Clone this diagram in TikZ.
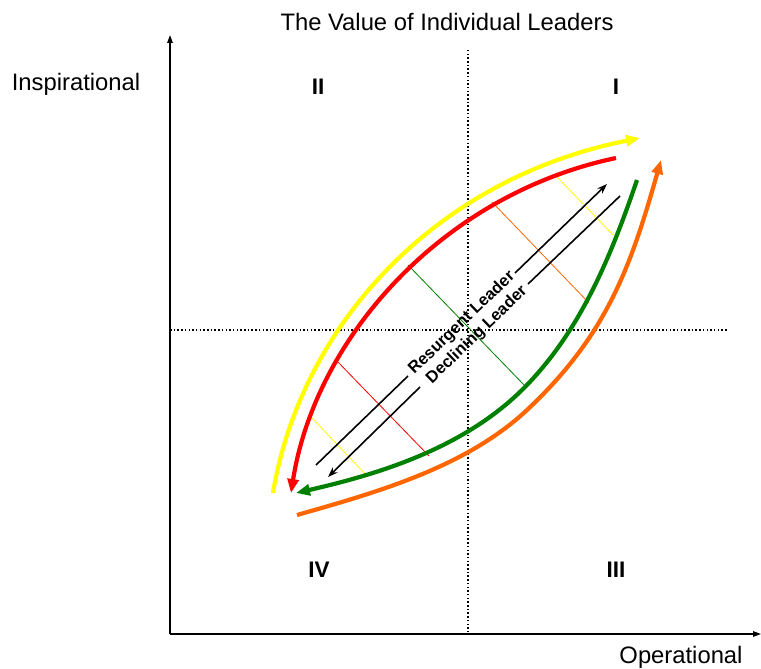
\documentclass[tikz,border=0pt]{standalone}
\usepackage{fontspec}
\setmainfont{Liberation Sans}
\usetikzlibrary{arrows.meta}
\definecolor{cyellow}{RGB}{255,255,0}
\definecolor{cred}{RGB}{255,0,0}
\definecolor{cgreen}{RGB}{0,128,0}
\definecolor{corange}{RGB}{255,102,0}
\tikzset{
  axis/.style={line width=1.4pt,-{Triangle[length=8pt,width=5.5pt]}},
  dotline/.style={line width=1.5pt,dash pattern=on 1.5pt off 2.2pt},
  bigcurve/.style={line width=4.2pt,-{Triangle[length=14pt,width=11pt]}},
  thinline/.style={line width=0.8pt},
  blackarrow/.style={line width=1.6pt},
  axlabel/.style={font=\fontsize{23.8}{27}\selectfont},
  quad/.style={font=\fontsize{22.5}{26}\selectfont\bfseries},
  diaglabel/.style={font=\fontsize{16.5}{19}\selectfont\bfseries,rotate=44}
}
\begin{document}
\begin{tikzpicture}[x=1pt,y=-1pt]
\useasboundingbox (0,0) rectangle (761,669);
% axes
\coordinate (O) at (170,634);
\coordinate (ytop) at (170,35);
\coordinate (xend) at (761,634);
\draw[axis] (O) -- (ytop);
\draw[axis] (O) -- (xend);
% dotted quadrant lines
\coordinate (vt) at (468,50);
\coordinate (vb) at (468,634);
\coordinate (hl) at (170,330);
\coordinate (hr) at (728,330);
\draw[dotline] (vt) -- (vb);
\draw[dotline] (hl) -- (hr);
% thin perpendicular lines
\draw[thinline,cyellow] (557,177) -- (618,240);
\draw[thinline,corange] (492,202) -- (589,303);
\draw[thinline,cgreen] (408,265) -- (526,387);
\draw[thinline,cred] (335,359) -- (429,456);
\draw[thinline,cyellow] (312,418) -- (368,477);
% big curves
\draw[bigcurve,cyellow] (273,493) .. controls (300,330) and (430,180) .. (640,138);
\draw[bigcurve,cred] (616,158) .. controls (440,195) and (315,340) .. (291,493);
\draw[bigcurve,cgreen] (637,180) .. controls (611,256) and (581,330) .. (525,387)
   .. controls (465,448) and (379,474) .. (296,493);
\draw[bigcurve,corange] (297,515) .. controls (378,492) and (466,467) .. (527,410)
   .. controls (607,335) and (631,266) .. (661,160);
% black diagonal arrows
\coordinate (r0) at (316,465);
\coordinate (r1) at (408,376);
\coordinate (r2) at (515,273);
\coordinate (r3) at (607,184);
\draw[blackarrow] (r0) -- (r1);
\draw[blackarrow,-{Stealth[length=10pt,width=7pt]}] (r2) -- (r3);
\coordinate (d0) at (620,196);
\coordinate (d1) at (528,284);
\coordinate (d2) at (420,387);
\coordinate (d3) at (328,477);
\draw[blackarrow] (d0) -- (d1);
\draw[blackarrow,-{Stealth[length=10pt,width=7pt]}] (d2) -- (d3);
\node[diaglabel] (resurgent) at (462,323) {Resurgent Leader};
\node[diaglabel] (declining) at (477,335) {Declining Leader};
% labels
\node[axlabel] (title) at (447,22) {The Value of Individual Leaders};
\node[axlabel] (insp) at (76,84) {Inspirational};
\node[axlabel] (oper) at (681,657) {Operational};
\node[quad] (q2) at (318,87) {II};
\node[quad] (q1) at (616,87) {I};
\node[quad] (q4) at (319,570) {IV};
\node[quad] (q3) at (616,570) {III};
\end{tikzpicture}
\end{document}
